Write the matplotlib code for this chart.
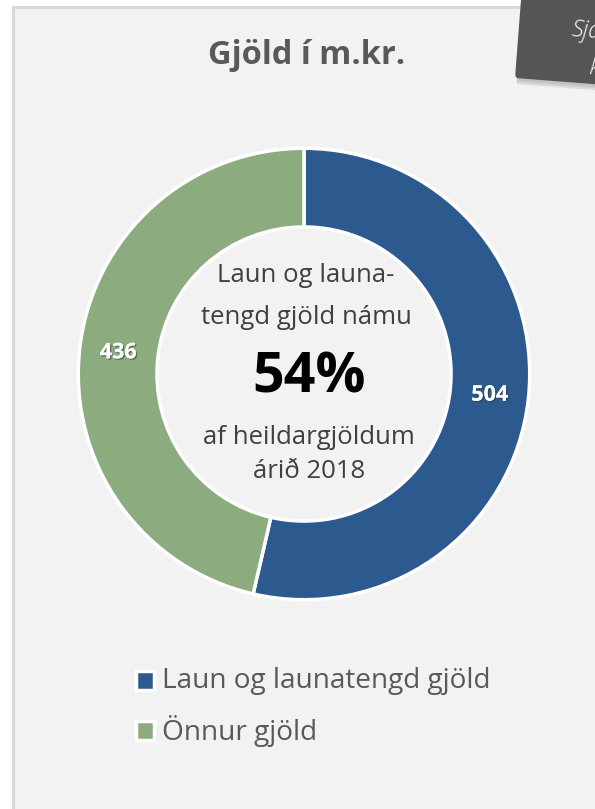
import numpy as np
import matplotlib.pyplot as plt
import matplotlib.patches as mpatches
import matplotlib.patheffects as pe
from matplotlib.transforms import Affine2D

plt.rcParams['font.family'] = ['Open Sans', 'DejaVu Sans']

# data
categories = ['Laun og launatengd gjöld', 'Önnur gjöld']
values = [504, 436]
colors = ['#2c5a8f', '#8cab7e']
title = 'Gjöld í m.kr.'
center_lines_top = ['Laun og launa-', 'tengd gjöld námu']
center_pct = '54%'
center_lines_bottom = ['af heildargjöldum', 'árið 2018']

W, H = 595, 809
fig = plt.figure(figsize=(W / 100, H / 100), dpi=100)
fig.patch.set_facecolor('white')

def px(x, y):
    # pixel coords (from top-left) -> figure fraction
    return x / W, 1 - y / H

# panel background with border
panel = mpatches.Rectangle((13 / W, -0.01), 1, 1.01 - 7 / H, transform=fig.transFigure,
                           facecolor='#f2f2f2', edgecolor='#d9d9d9', linewidth=2.2,
                           zorder=-5)
fig.patches.append(panel)

# title
fig.text(*px(307, 55), title, ha='center', va='center', fontsize=23.5,
         fontweight='bold', color='#595959')

# donut
cx, cy, R = 304, 374, 228
ax = fig.add_axes([(cx - R) / W, 1 - (cy + R) / H, 2 * R / W, 2 * R / H])
ax.set_zorder(2)
wedges, _ = ax.pie(values, colors=colors, startangle=90, counterclock=False,
                   radius=0.99,
                   wedgeprops=dict(width=0.345, edgecolor='white', linewidth=2.5))
ax.set_xlim(-1, 1)
ax.set_ylim(-1, 1)
ax.axis('off')

for w, v in zip(wedges, values):
    ang = np.deg2rad((w.theta1 + w.theta2) / 2)
    r = 0.82
    ax.text(r * np.cos(ang), r * np.sin(ang), str(v), ha='center', va='center',
            fontsize=15.5, fontweight='bold', color='white',
            path_effects=[pe.withSimplePatchShadow(offset=(1, -1), alpha=0.5,
                                                   shadow_rgbFace='#333333'),
                          pe.Normal()])

# center text
for txt, y in zip(center_lines_top, [275, 318]):
    fig.text(*px(306, y), txt, ha='center', va='center', fontsize=18.5,
             color='#404040', zorder=3)
fig.text(*px(309, 378), center_pct, ha='center', va='center', fontsize=40,
         fontweight='bold', color='black', zorder=3)
for txt, y in zip(center_lines_bottom, [437, 472]):
    fig.text(*px(309, y), txt, ha='center', va='center', fontsize=18.5,
             color='#404040', zorder=3)

# legend
for i, (cat, col) in enumerate(zip(categories, colors)):
    y = 681 + i * 50
    sq = mpatches.Rectangle(px(136, y + 9), 18 / W, 19 / H, transform=fig.transFigure,
                            facecolor=col, edgecolor='white', linewidth=2.5)
    fig.patches.append(sq)
    fig.text(*px(162, y), cat, ha='left', va='center', fontsize=20.2,
             color='#595959')

# dark note box in the top right corner (cut off by the page edge)
box_tr = Affine2D().rotate_deg_around(515, H - 78, -4.4) + Affine2D().scale(1 / 100) + fig.dpi_scale_trans
for k, a in enumerate([0.05, 0.07, 0.09]):
    sh = mpatches.Rectangle((515 + 2, H - 78 - 2 - 2 * k), 200, 100, facecolor='#000000',
                            alpha=a, edgecolor='none', transform=box_tr)
    fig.patches.append(sh)
box = mpatches.FancyBboxPatch((515, H - 78), 200, 100,
                              boxstyle='round,pad=0,rounding_size=4',
                              facecolor='#555555', edgecolor='none', transform=box_tr)
fig.patches.append(box)
fig.text(*px(571, 31), 'Sjá', ha='left', va='center', fontsize=17, color='white',
         fontweight='light', style='italic', rotation=-4.4)
fig.text(*px(588, 68), 'k', ha='left', va='center', fontsize=17, color='white',
         fontweight='light', style='italic', rotation=-4.4)

fig.savefig('out.png', dpi=100, facecolor=fig.get_facecolor())
